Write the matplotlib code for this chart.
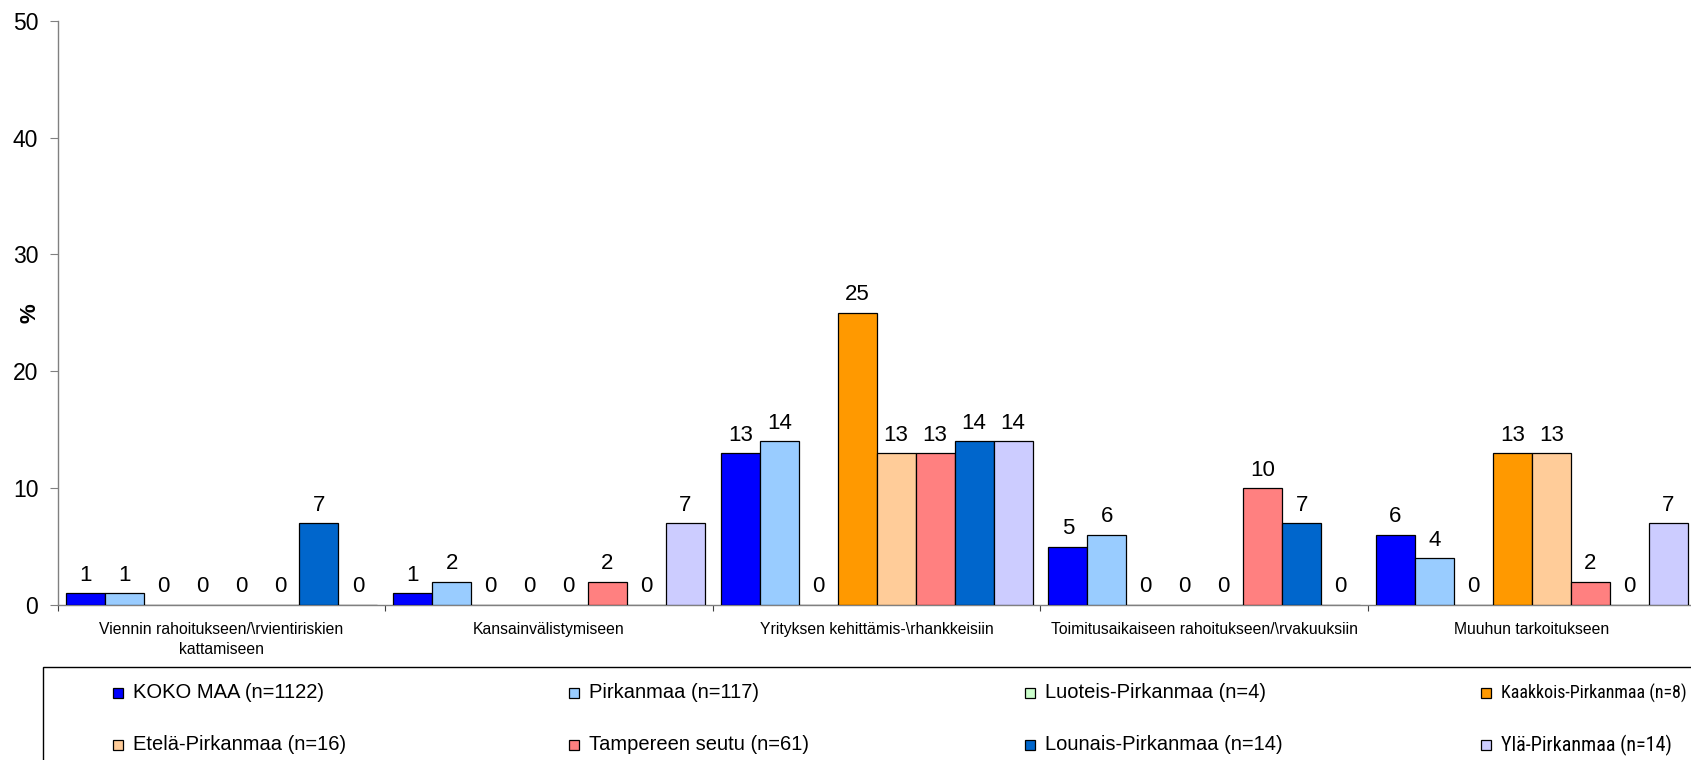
import matplotlib
matplotlib.use("Agg")
import matplotlib.pyplot as plt
from matplotlib.patches import Rectangle
from matplotlib import font_manager
import numpy as np

plt.rcParams['font.family'] = ['Liberation Sans', 'DejaVu Sans']

categories = [
    "Viennin rahoitukseen/\\rvientiriskien\nkattamiseen",
    "Kansainvälistymiseen",
    "Yrityksen kehittämis-\\rhankkeisiin",
    "Toimitusaikaiseen rahoitukseen/\\rvakuuksiin",
    "Muuhun tarkoitukseen",
]
series_names = [
    "KOKO MAA (n=1122)", "Pirkanmaa (n=117)", "Luoteis-Pirkanmaa (n=4)",
    "Kaakkois-Pirkanmaa (n=8)", "Etelä-Pirkanmaa (n=16)", "Tampereen seutu (n=61)",
    "Lounais-Pirkanmaa (n=14)", "Ylä-Pirkanmaa (n=14)",
]
koko_maa = [1, 1, 13, 5, 6]
pirkanmaa = [1, 2, 14, 6, 4]
luoteis = [0, 0, 0, 0, 0]
kaakkois = [0, 0, 25, 0, 13]
etela = [0, 0, 13, 0, 13]
tampere = [0, 2, 13, 10, 2]
lounais = [7, 0, 14, 7, 0]
yla = [0, 7, 14, 0, 7]
series_values = [koko_maa, pirkanmaa, luoteis, kaakkois, etela, tampere, lounais, yla]
colors = ["#0000FF", "#99CCFF", "#CCFFCC", "#FF9900", "#FFCC99", "#FF8080", "#0066CC", "#CCCCFF"]
y_ticks = [0, 10, 20, 30, 40, 50]

narrow_family = None
for fam in ["Liberation Sans Narrow", "Arial Narrow", "Roboto Condensed", "DejaVu Sans Condensed"]:
    try:
        font_manager.findfont(font_manager.FontProperties(family=fam), fallback_to_default=False)
        narrow_family = fam
        break
    except Exception:
        pass

W, H = 1691, 760
fig = plt.figure(figsize=(W / 100, H / 100), dpi=100)
ax = fig.add_axes([57.7 / W, 1 - 605 / H, (1695.6 - 57.7) / W, (605 - 20.7) / H])

n = len(series_names)
bw = 0.119
x = np.arange(len(categories))
start = -n * bw / 2
for i, (name, vals, c) in enumerate(zip(series_names, series_values, colors)):
    pos = x + start + (i + 0.5) * bw
    ax.bar(pos, vals, width=bw, color=c, edgecolor="black", linewidth=0.9, label=name, zorder=3)
    for xp, v in zip(pos, vals):
        ax.annotate(f"{v}", (xp, v), xytext=(0, 9), textcoords="offset points",
                    ha="center", va="baseline", fontsize=16, color="black")

ax.set_xlim(-0.5, len(categories) - 0.5)
ax.set_ylim(0, 50)
ax.set_yticks(y_ticks)
ax.set_yticklabels([str(t) for t in y_ticks], fontsize=16.5)
ax.tick_params(axis="y", length=6, width=0.8, color="#808080", pad=8)

ax.set_xticks(x)
ax.set_xticklabels(categories, fontsize=11.3, linespacing=1.35)
ax.set_xticks(np.arange(-0.5, len(categories) + 0.5, 1), minor=True)
ax.tick_params(axis="x", which="major", length=0, pad=12.5)
ax.tick_params(axis="x", which="minor", length=4.5, width=0.8, color="#404040")

for s in ["top", "right"]:
    ax.spines[s].set_visible(False)
ax.spines["left"].set_color("#808080")
ax.spines["left"].set_linewidth(1.0)
ax.spines["bottom"].set_color("#808080")
ax.spines["bottom"].set_linewidth(1.0)

fig.text(30 / W, 1 - 313 / H, "%", rotation=90, ha="center", va="center", fontsize=16, fontweight="bold")

# legend frame
fig.add_artist(Rectangle((43.3 / W, -0.01), (W + 10) / W, (H - 667.3) / H + 0.01, transform=fig.transFigure,
                         facecolor="white", edgecolor="black", linewidth=1.0, clip_on=False))
col_centers = [118, 574, 1030, 1486]
row_centers = [693, 745]
msz = 10
renderer = fig.canvas.get_renderer()
for i, (name, c) in enumerate(zip(series_names, colors)):
    cx = col_centers[i % 4]
    cy = row_centers[i // 4]
    fig.add_artist(Rectangle(((cx - msz / 2) / W, 1 - (cy + msz / 2) / H), msz / W, msz / H,
                             transform=fig.transFigure, facecolor=c, edgecolor="black", linewidth=0.9))
    t = fig.text((cx + msz / 2 + 10) / W, 1 - cy / H, name, ha="left", va="center", fontsize=14.5)
    fs = 14.5
    if t.get_window_extent(renderer).x1 > W - 4 and narrow_family is not None:
        t.set_family([narrow_family, 'DejaVu Sans'])
    while t.get_window_extent(renderer).x1 > W - 4 and fs > 8:
        fs -= 0.25
        t.set_fontsize(fs)

fig.savefig("out.png", dpi=100)
